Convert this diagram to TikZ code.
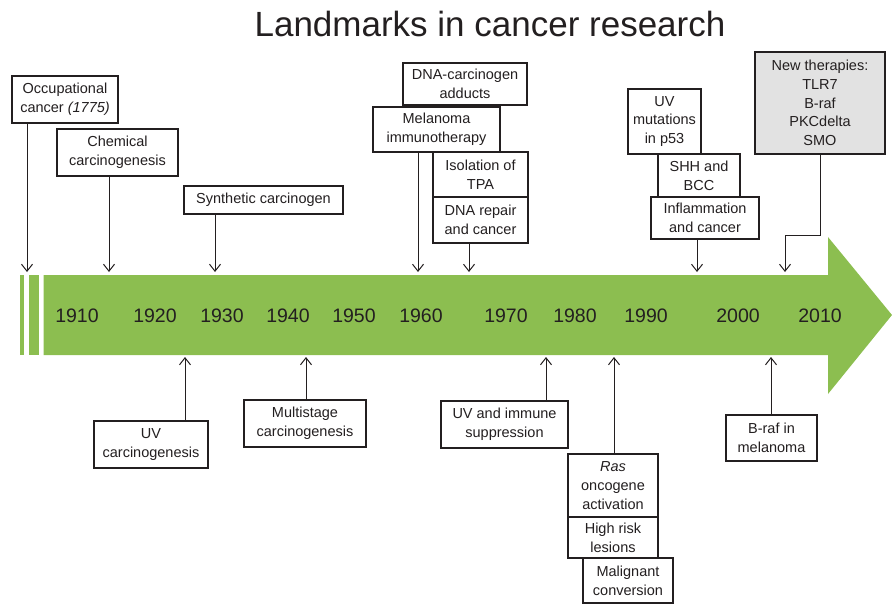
\documentclass[tikz,border=0pt]{standalone}
\usepackage{fontspec}
\setmainfont{Liberation Sans}
\usetikzlibrary{arrows.meta}
\definecolor{trak}{RGB}{140,190,80}
\definecolor{siva}{RGB}{226,226,226}
\definecolor{crna}{RGB}{35,31,32}
% okvir dogodka: sredisce x, sredisce y, sirina, visina
\newcommand{\Dogodek}[6][]{%
	\node[dogodek,minimum width=#4,minimum height=#5,#1] at (#2,#3) {#6};
	}

\begin{document}
\begin{tikzpicture}[x=1pt,y=-1pt,crna,
	dogodek/.style={draw,line width=1.6pt,fill=white,align=center,inner sep=1pt,
		font=\fontsize{14.5}{18.7}\selectfont},
	puscica/.style={-{Straight Barb[length=7pt,width=11pt]},line width=1pt},
	leto/.style={font=\fontsize{19.5}{22}\selectfont}]
	\useasboundingbox (0,0) rectangle (892,605);

	\node[anchor=base] (naslov) at (490,36) {\fontsize{35}{40}\selectfont Landmarks in cancer research};

	% zelena casovna os
	\fill[trak] (19.5,275) rectangle (24,355);
	\fill[trak] (29,275) rectangle (38.5,355);
	\fill[trak] (43.5,275) -- (828,275) -- (828,237) -- (892,315)
		-- (828,394) -- (828,355) -- (43.5,355) -- cycle;
	\foreach \x/\l in {77/1910,155/1920,222/1930,288/1940,354/1950,421/1960,
		506/1970,575/1980,646/1990,738/2000,820/2010}
		\node[leto] (l\l) at (\x,316) {\l};

	% zgoraj
	\Dogodek[name=occ]{65}{99.5}{106}{47}{Occupational\\cancer \textit{(1775)}}
	\Dogodek[name=chem]{117.5}{152.5}{121}{47}{Chemical\\carcinogenesis}
	\Dogodek[name=synt]{263.5}{200}{159}{28}{Synthetic carcinogen}
	\Dogodek[name=add]{465}{84}{124}{42}{DNA-carcinogen\\adducts}
	\Dogodek[name=mel]{436.5}{129.5}{127}{45}{Melanoma\\immunotherapy}
	\Dogodek[name=tpa]{480.5}{174.5}{95}{45}{Isolation of\\TPA}
	\Dogodek[name=rep]{480.5}{220}{95}{46}{DNA repair\\and cancer}
	\Dogodek[name=p53]{664.5}{121.5}{73}{65}{UV\\mutations\\in p53}
	\Dogodek[name=shh]{699}{175.5}{82}{43}{SHH and\\BCC}
	\Dogodek[name=inf]{705}{218}{108}{42}{Inflammation\\and cancer}
	\Dogodek[name=ther,fill=siva]{820}{103}{130}{102}{New therapies:\\TLR7\\B-raf\\PKCdelta\\SMO}

	% spodaj
	\Dogodek[name=uvc]{151}{444.5}{114}{47}{UV\\carcinogenesis}
	\Dogodek[name=mult]{305}{423.5}{122}{47}{Multistage\\carcinogenesis}
	\Dogodek[name=imm]{504.5}{424.5}{127}{47}{UV and immune\\suppression}
	\Dogodek[name=ras]{613}{485.5}{90}{63}{\textit{Ras}\\oncogene\\activation}
	\Dogodek[name=risk]{613}{537.5}{90}{41}{High risk\\lesions}
	\Dogodek[name=mal]{628}{580.5}{90}{45}{Malignant\\conversion}
	\Dogodek[name=braf]{771.5}{438}{91}{46}{B-raf in\\melanoma}

	% puscice
	\coordinate (kOcc) at (27,272);
	\coordinate (kChem) at (109,272);
	\coordinate (kSynt) at (215,272);
	\coordinate (kMel) at (418,272);
	\coordinate (kRep) at (469,272);
	\coordinate (kInf) at (697,272);
	\coordinate (kTher) at (785,272);
	\draw[puscica] (occ.south -| kOcc) -- (kOcc);
	\draw[puscica] (chem.south -| kChem) -- (kChem);
	\draw[puscica] (synt.south -| kSynt) -- (kSynt);
	\draw[puscica] (mel.south -| kMel) -- (kMel);
	\draw[puscica] (rep.south -| kRep) -- (kRep);
	\draw[puscica] (inf.south -| kInf) -- (kInf);
	\draw[puscica] (ther.south) -- ++(0,81) -| (kTher);

	\coordinate (kUvc) at (185,357);
	\coordinate (kMult) at (306,357);
	\coordinate (kImm) at (546,357);
	\coordinate (kRas) at (614,357);
	\coordinate (kBraf) at (771,357);
	\draw[puscica] (uvc.north -| kUvc) -- (kUvc);
	\draw[puscica] (mult.north -| kMult) -- (kMult);
	\draw[puscica] (imm.north -| kImm) -- (kImm);
	\draw[puscica] (ras.north -| kRas) -- (kRas);
	\draw[puscica] (braf.north -| kBraf) -- (kBraf);
\end{tikzpicture}
\end{document}
